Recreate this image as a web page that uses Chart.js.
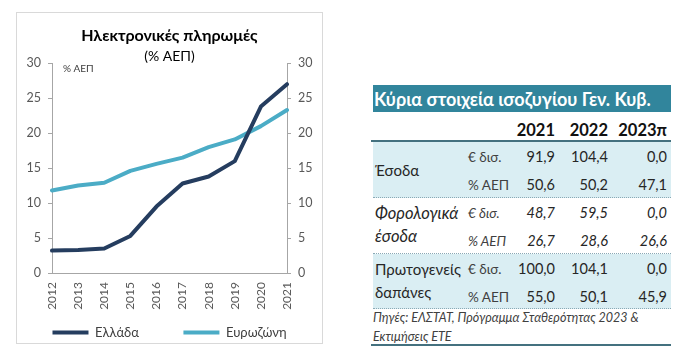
<!DOCTYPE html>
<html><head><meta charset="utf-8">
<script src="https://cdn.jsdelivr.net/npm/chart.js@4/dist/chart.umd.min.js"></script>
<style>
html,body{margin:0;padding:0;background:#fff;width:700px;height:357px;overflow:hidden;font-family:Lato,sans-serif;}
#box{position:absolute;left:16px;top:12px;width:305px;height:330px;border:1px solid #d9d9d9;}
#c{display:block;}
.abs{position:absolute;white-space:nowrap;}
</style></head><body>
<div id="box"><canvas id="c" width="305" height="330"></canvas></div>
<div id="tbl"></div>
<script>
// ---- chart data ----
const years = ['2012','2013','2014','2015','2016','2017','2018','2019','2020','2021'];
const greece = [3.2, 3.3, 3.5, 5.3, 9.5, 12.8, 13.8, 16.0, 23.8, 27.0];
const eurozone = [11.8, 12.5, 12.9, 14.6, 15.6, 16.5, 18.0, 19.1, 21.0, 23.3];
const yTicks = [0, 5, 10, 15, 20, 25, 30];
const seriesNames = ['Ελλάδα', 'Ευρωζώνη'];
const chartTitle = 'Ηλεκτρονικές πληρωμές';
const chartSubtitle = '(% ΑΕΠ)';
const unitNote = '% ΑΕΠ';

// ---- table data ----
const tableTitle = 'Κύρια στοιχεία ισοζυγίου Γεν. Κυβ.';
const tableYears = ['2021', '2022', '2023π'];
const rowLabels = [['Έσοδα'], ['Φορολογικά', 'έσοδα'], ['Πρωτογενείς', 'δαπάνες']];
const units = ['€ δισ.', '% ΑΕΠ'];
const revenueBn = [91.9, 104.4, 0.0];
const revenuePct = [50.6, 50.2, 47.1];
const taxBn = [48.7, 59.5, 0.0];
const taxPct = [26.7, 28.6, 26.6];
const primaryBn = [100.0, 104.1, 0.0];
const primaryPct = [55.0, 50.1, 45.9];
const sourceLines = ['Πηγές: ΕΛΣΤΑΤ, Πρόγραμμα Σταθερότητας 2023 &', 'Εκτιμήσεις ΕΤΕ'];

const noteLabel = {
  id: 'noteLabel',
  afterDraw(chart) {
    const ctx = chart.ctx, a = chart.chartArea;
    ctx.save();
    ctx.font = '10px Lato';
    ctx.fillStyle = '#404040';
    ctx.textBaseline = 'middle';
    ctx.fillText(unitNote, a.left + 11, a.top + 6);
    ctx.restore();
  }
};

new Chart(document.getElementById('c'), {
  type: 'line',
  data: {
    labels: years,
    datasets: [
      {label: seriesNames[0], data: greece, borderColor: '#253d5f', backgroundColor: '#253d5f', borderWidth: 4, pointRadius: 0, tension: 0, borderCapStyle: 'round', borderJoinStyle: 'round', yAxisID: 'y'},
      {label: seriesNames[1], data: eurozone, borderColor: '#4bacc6', backgroundColor: '#4bacc6', borderWidth: 4, pointRadius: 0, tension: 0, borderCapStyle: 'round', borderJoinStyle: 'round', yAxisID: 'y'}
    ]
  },
  options: {
    responsive: false,
    animation: false,
    layout: {padding: {left: 0, right: 0, top: 0, bottom: -6}},
    plugins: {
      title: {display: true, text: chartTitle, color: '#000', font: {family: 'Lato', size: 16, weight: 'bold'}, padding: {top: 13, bottom: 0}},
      subtitle: {display: true, text: chartSubtitle, color: '#000', font: {family: 'Lato', size: 14, lineHeight: 1.0}, padding: {top: 4, bottom: 0}},
      legend: {
        position: 'bottom',
        labels: {
          usePointStyle: true, pointStyle: 'line', pointStyleWidth: 36, padding: 1,
          color: '#404040', font: {family: 'Lato', size: 13},
          generateLabels(chart) {
            const items = Chart.defaults.plugins.legend.labels.generateLabels(chart);
            items.forEach(it => { it.pointStyle = 'line'; it.lineWidth = 4; });
            items.splice(1, 0, {text: '', fillStyle: 'rgba(0,0,0,0)', strokeStyle: 'rgba(0,0,0,0)', lineWidth: 0.001, pointStyle: 'line', hidden: false, datasetIndex: -1});
            return items;
          }
        }
      },
      tooltip: {enabled: false}
    },
    scales: {
      x: {
        grid: {drawOnChartArea: false, drawTicks: false},
        border: {color: '#a6a6a6', width: 1},
        ticks: {minRotation: 90, maxRotation: 90, padding: 9, color: '#595959', font: {family: 'Lato', size: 12}},
        afterFit: s => { s.height = 52; }
      },
      y: {
        position: 'left', min: 0, max: 30,
        afterBuildTicks: s => { s.ticks = yTicks.map(v => ({value: v})); },
        grid: {drawOnChartArea: false, tickLength: 4, color: '#a6a6a6'},
        border: {color: '#a6a6a6', width: 1},
        ticks: {padding: 7, color: '#595959', font: {family: 'Lato', size: 12.5}},
        afterFit: s => { s.width = 35; }
      },
      y1: {
        position: 'right', min: 0, max: 30,
        afterBuildTicks: s => { s.ticks = yTicks.map(v => ({value: v})); },
        grid: {drawOnChartArea: false, tickLength: 4, color: '#a6a6a6'},
        border: {color: '#a6a6a6', width: 1},
        ticks: {padding: 7, color: '#595959', font: {family: 'Lato', size: 12.5}},
        afterFit: s => { s.width = 35; }
      }
    }
  },
  plugins: [noteLabel]
});

// ---- table (HTML) ----
const tbl = document.getElementById('tbl');
function box(x, y, w, h, css) {
  const d = document.createElement('div');
  d.className = 'abs';
  d.style.cssText += `left:${x}px;top:${y}px;width:${w}px;height:${h}px;` + (css || '');
  tbl.appendChild(d);
  return d;
}
function txt(x, yc, s, css, alignRight) {
  const d = document.createElement('div');
  d.className = 'abs';
  d.textContent = s;
  if (alignRight) {
    d.style.cssText += `left:${x - 120}px;width:120px;text-align:right;`;
  } else {
    d.style.cssText += `left:${x}px;`;
  }
  d.style.cssText += `top:${yc - 10}px;height:20px;line-height:20px;` + (css || '');
  tbl.appendChild(d);
  return d;
}
const fmt = v => v.toFixed(1).replace('.', ',');
const L = 373, W = 298;
const colRight = [555, 608, 667];
box(L, 85, W, 27, 'background:#31859c;');
txt(L + 1, 98.5, tableTitle, 'color:#fff;font-weight:bold;font-size:18px;');
tableYears.forEach((y, i) => txt(colRight[i], 130, y, 'color:#111;font-weight:bold;font-size:16.5px;', true));
box(L - 2, 140, W + 2, 2, 'background:#44717f;');

const groups = [
  {top: 142, h: 56, bg: '#daeef3', italic: false, vals: [revenueBn, revenuePct]},
  {top: 198, h: 56, bg: '#ffffff', italic: true, vals: [taxBn, taxPct]},
  {top: 254, h: 55, bg: '#daeef3', italic: false, vals: [primaryBn, primaryPct]}
];
groups.forEach((g, gi) => {
  box(L, g.top, W, g.h - 1, `background:${g.bg};border-bottom:1px dotted #8aa9b5;`);
  const st = g.italic ? 'font-style:italic;' : '';
  const lsz = g.italic ? 'font-size:16.5px;' : 'font-size:15px;';
  const lab = rowLabels[gi];
  if (lab.length === 1) {
    txt(L + 2, g.top + 28, lab[0], st + lsz + 'color:#262626;');
  } else {
    txt(L + 2, g.top + 15, lab[0], st + lsz + 'color:#262626;');
    txt(L + 2, g.top + 38, lab[1], st + lsz + 'color:#262626;');
  }
  units.forEach((u, ui) => {
    const yc = g.top + (ui === 0 ? 15 : 43);
    txt(468, yc, u, st + 'color:#404040;font-size:13.5px;');
    g.vals[ui].forEach((v, vi) => txt(colRight[vi], yc, fmt(v), st + 'color:#262626;font-size:14.5px;', true));
  });
});
txt(L, 318, sourceLines[0], 'font-style:italic;color:#404040;font-size:12.5px;');
txt(L, 337, sourceLines[1], 'font-style:italic;color:#404040;font-size:12.5px;');
box(L - 2, 344, W + 2, 2, 'background:#44717f;');
</script>
</body></html>
